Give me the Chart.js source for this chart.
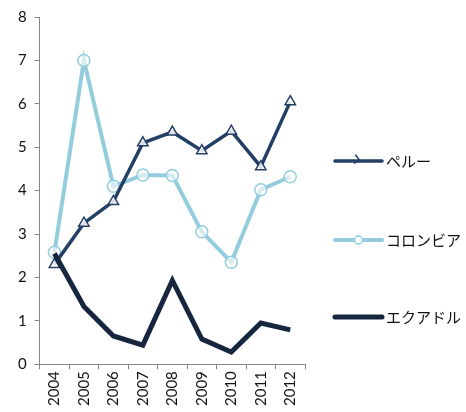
<!DOCTYPE html>
<html>
<head>
<meta charset="utf-8">
<script src="https://cdn.jsdelivr.net/npm/chart.js@4/dist/chart.umd.min.js"></script>
<style>
  html, body { margin: 0; padding: 0; background: #ffffff; }
  #wrap { width: 466px; height: 412px; position: relative; }
</style>
</head>
<body>
<div id="wrap"><canvas id="c" width="466" height="412"></canvas></div>
<script>
// Years on the category axis
const years = ['2004', '2005', '2006', '2007', '2008', '2009', '2010', '2011', '2012'];

// Series values
const peru     = [2.30, 3.25, 3.75, 5.10, 5.35, 4.92, 5.37, 4.55, 6.05];
const colombia = [2.58, 7.00, 4.10, 4.36, 4.35, 3.05, 2.35, 4.02, 4.32];
const ecuador  = [2.55, 1.33, 0.65, 0.44, 1.93, 0.58, 0.28, 0.95, 0.79];

// Series names
const seriesNames = ['ペルー', 'コロンビア', 'エクアドル'];

// Value axis range
const yMin = 0, yMax = 8, yStep = 1;

const latin = 'Lato, "Noto Sans CJK JP", sans-serif';
const jp = '"Noto Sans CJK JP", sans-serif';

// Legend drawn to the right of the plot: line sample with marker, then the name
const sideLegend = {
  id: 'sideLegend',
  afterDraw(chart) {
    const ctx = chart.ctx;
    const rows = [161, 240, 317];
    const x0 = 335, x1 = 382;
    chart.data.datasets.forEach((ds, i) => {
      const y = rows[i];
      ctx.save();
      ctx.strokeStyle = ds.borderColor;
      ctx.lineWidth = ds.borderWidth;
      ctx.lineCap = 'round';
      ctx.beginPath();
      ctx.moveTo(x0, y);
      ctx.lineTo(x1, y);
      ctx.stroke();
      const cx = (x0 + x1) / 2;
      if (ds.pointStyle === 'triangle') {
        ctx.lineWidth = 1.5;
        ctx.strokeStyle = ds.pointBorderColor;
        ctx.beginPath();
        ctx.moveTo(cx - 3, y - 6);
        ctx.lineTo(cx + 1, y - 1);
        ctx.lineTo(cx - 4, y + 2);
        ctx.stroke();
      } else if (ds.pointStyle === 'circle') {
        ctx.lineWidth = 1.5;
        ctx.fillStyle = '#ffffff';
        ctx.strokeStyle = ds.pointBorderColor;
        ctx.beginPath();
        ctx.arc(cx, y, 4, 0, Math.PI * 2);
        ctx.fill();
        ctx.stroke();
      }
      ctx.fillStyle = '#111111';
      ctx.font = '15px ' + jp;
      ctx.textBaseline = 'middle';
      ctx.textAlign = 'left';
      ctx.fillText(ds.label, 386, y);
      ctx.restore();
    });
  }
};

new Chart(document.getElementById('c'), {
  type: 'line',
  data: {
    labels: years,
    datasets: [
      {
        label: seriesNames[0],
        data: peru,
        order: 1,
        borderColor: '#243f66',
        borderWidth: 3.5,
        pointStyle: 'triangle',
        pointRadius: 6,
        pointBorderWidth: 1.5,
        pointBorderColor: '#243f66',
        pointBackgroundColor: 'rgba(255,255,255,0.85)',
        tension: 0
      },
      {
        label: seriesNames[1],
        data: colombia,
        order: 2,
        borderColor: '#93cddd',
        borderWidth: 4,
        pointStyle: 'circle',
        pointRadius: 6,
        pointBorderWidth: 1.5,
        pointBorderColor: '#93cddd',
        pointBackgroundColor: 'rgba(255,255,255,0.6)',
        tension: 0
      },
      {
        label: seriesNames[2],
        data: ecuador,
        order: 0,
        borderColor: '#17263f',
        borderWidth: 5,
        pointRadius: 0,
        pointHoverRadius: 0,
        tension: 0
      }
    ]
  },
  options: {
    responsive: false,
    animation: false,
    devicePixelRatio: 1,
    layout: { padding: { top: 16, right: 161, left: 10, bottom: 4 } },
    plugins: {
      legend: { display: false },
      tooltip: { enabled: false }
    },
    scales: {
      x: {
        offset: true,
        grid: {
          offset: true,
          drawOnChartArea: false,
          drawTicks: true,
          tickLength: 5,
          color: '#868686',
          lineWidth: 1
        },
        border: { color: '#868686', width: 1 },
        ticks: {
          minRotation: 90,
          maxRotation: 90,
          autoSkip: false,
          color: '#111111',
          padding: 2,
          font: { family: latin, size: 15 }
        }
      },
      y: {
        min: yMin,
        max: yMax,
        grid: {
          drawOnChartArea: false,
          drawTicks: true,
          tickLength: 5,
          color: '#868686'
        },
        border: { color: '#868686', width: 1 },
        ticks: {
          stepSize: yStep,
          color: '#111111',
          padding: 8,
          font: { family: latin, size: 15 }
        }
      }
    }
  },
  plugins: [sideLegend]
});
</script>
</body>
</html>
